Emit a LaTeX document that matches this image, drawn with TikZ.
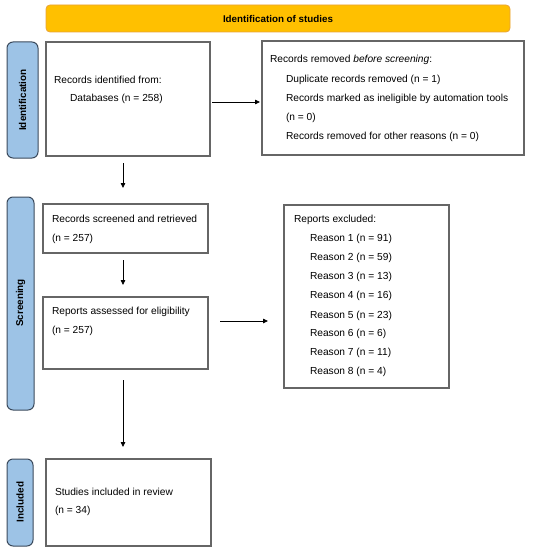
\documentclass[tikz,border=0pt]{standalone}
\usepackage{fontspec}
\setmainfont{Liberation Sans}
\usetikzlibrary{arrows.meta,calc}
\definecolor{bannerfill}{HTML}{FFC000}
\definecolor{bannerline}{HTML}{E8A33A}
\definecolor{sidefill}{HTML}{9DC3E6}
\definecolor{sideline}{HTML}{3B4A5C}
\definecolor{boxline}{HTML}{666666}
\begin{document}
\begin{tikzpicture}[x=1pt,y=-1pt,
  every node/.style={inner sep=0pt,outer sep=0pt},
  banner/.style={draw=bannerline,fill=bannerfill,rounded corners=4pt,line width=0.8pt},
  sidebar/.style={draw=sideline,fill=sidefill,rounded corners=6pt,line width=1pt},
  flowbox/.style={draw=boxline,line width=1.3pt},
  sidelabel/.style={rotate=90,font=\fontsize{9.9}{11}\selectfont\bfseries},
  txt/.style={anchor=west,font=\fontsize{10.2}{11}\selectfont},
  arr/.style={-{Triangle[length=5pt,width=4.5pt]},line width=0.8pt}]
\useasboundingbox (0,0) rectangle (550,551);
% banner
\draw[banner] (46,5) rectangle (510,32);
\node[font=\fontsize{9.8}{11}\selectfont\bfseries] (bannertext) at (278,19) {Identification of studies};
% side bars
\draw[sidebar] (7,42) rectangle (38,158);
\node[sidelabel] (lab1) at (22.5,100) {Identification};
\draw[sidebar] (7,197) rectangle (34,410);
\node[sidelabel] (lab2) at (20.5,303) {Screening};
\draw[sidebar] (7,459) rectangle (33,546);
\node[sidelabel] (lab3) at (20,502) {Included};
% boxes
\node[flowbox,minimum width=164pt,minimum height=114pt] (b1) at (128,99) {};
\node[flowbox,minimum width=262pt,minimum height=114pt] (b2) at (393,98) {};
\node[flowbox,minimum width=165pt,minimum height=49pt] (b3) at (125.5,228.5) {};
\node[flowbox,minimum width=165pt,minimum height=72pt] (b4) at (125.5,333) {};
\node[flowbox,minimum width=165pt,minimum height=183pt] (b5) at (366.5,296.5) {};
\node[flowbox,minimum width=165pt,minimum height=87pt] (b6) at (128.5,502.5) {};
% texts box1
\node[txt] (t11) at (54,80) {Records identified from:};
\node[txt] (t12) at (70,99) {Databases (n = 258)};
% texts box2
\node[txt] (t21) at (270,60) {Records removed \textit{before screening}:};
\node[txt] (t22) at (286,80) {Duplicate records removed (n = 1)};
\node[txt] (t23) at (286,99) {Records marked as ineligible by automation tools};
\node[txt] (t24) at (286,118) {(n = 0)};
\node[txt] (t25) at (286,137) {Records removed for other reasons (n = 0)};
% box3
\node[txt] (t31) at (52,219) {Records screened and retrieved};
\node[txt] (t32) at (52,239) {(n = 257)};
% box4
\node[txt] (t41) at (52,312) {Reports assessed for eligibility};
\node[txt] (t42) at (52,331) {(n = 257)};
% box5
\node[txt] (t51) at (294,220) {Reports excluded:};
\node[txt] (t52) at (310,239) {Reason 1 (n = 91)};
\node[txt] (t53) at (310,258) {Reason 2 (n = 59)};
\node[txt] (t54) at (310,277) {Reason 3 (n = 13)};
\node[txt] (t55) at (310,296) {Reason 4 (n = 16)};
\node[txt] (t56) at (310,316) {Reason 5 (n = 23)};
\node[txt] (t57) at (310,334) {Reason 6 (n = 6)};
\node[txt] (t58) at (310,353) {Reason 7 (n = 11)};
\node[txt] (t59) at (310,372) {Reason 8 (n = 4)};
% box6
\node[txt] (t61) at (55,492) {Studies included in review};
\node[txt] (t62) at (55,511) {(n = 34)};
% arrows
\draw[arr] (b1.east) ++(2,3) -- ++(48,0);
\draw[arr] (b1.south) ++(-5,7) -- ++(0,25);
\draw[arr] (b3.south) ++(-2.5,7) -- ++(0,25);
\draw[arr] (b4.east) ++(12,-12) -- ++(48,0);
\draw[arr] (b4.south) ++(-2.5,11) -- ++(0,67);
\end{tikzpicture}
\end{document}
